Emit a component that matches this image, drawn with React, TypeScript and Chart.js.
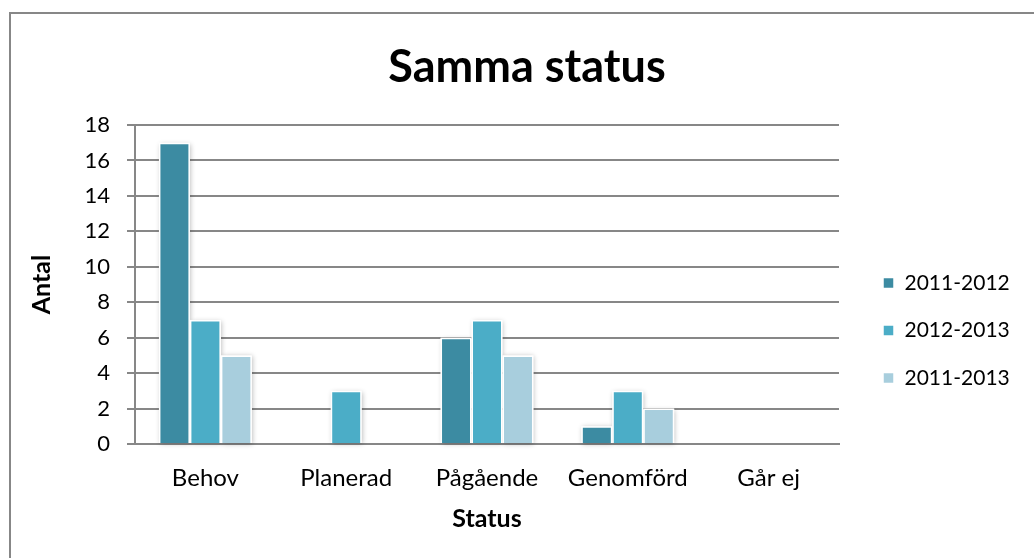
import React, { useEffect, useRef } from "react";
import { Chart, registerables } from "chart.js";

Chart.register(...registerables);

const FONT = 'Lato, "Open Sans", sans-serif';

const chartTitle = "Samma status";
const xAxisTitle = "Status";
const yAxisTitle = "Antal";
const categories = ["Behov", "Planerad", "Pågående", "Genomförd", "Går ej"];
const seriesLabels = ["2011-2012", "2012-2013", "2011-2013"];
const values20112012 = [17, 0, 6, 1, 0];
const values20122013 = [7, 3, 7, 3, 0];
const values20112013 = [5, 0, 5, 2, 0];
const seriesColors = ["#3C8BA2", "#4BADC7", "#A8CEDD"];
const yMin = 0;
const yMax = 18;
const yStep = 2;

const barShadow = {
  id: "barShadow",
  beforeDatasetsDraw(chart: any) {
    const ctx = chart.ctx;
    ctx.save();
    ctx.shadowColor = "rgba(0,0,0,0.28)";
    ctx.shadowBlur = 5;
    ctx.shadowOffsetX = 1;
    ctx.shadowOffsetY = 1;
    ctx.fillStyle = "#ffffff";
    chart.data.datasets.forEach((_d: any, i: number) => {
      const meta = chart.getDatasetMeta(i);
      meta.data.forEach((el: any) => {
        const h = el.base - el.y;
        if (h > 0.5) {
          ctx.fillRect(el.x - el.width / 2, el.y, el.width, h);
        }
      });
    });
    ctx.restore();
  },
};

export default function App() {
  const ref = useRef<HTMLCanvasElement | null>(null);

  useEffect(() => {
    if (!ref.current) return;
    const valueSets = [values20112012, values20122013, values20112013];
    const chart = new Chart(ref.current, {
      type: "bar",
      data: {
        labels: categories,
        datasets: seriesLabels.map((label, i) => ({
          label,
          data: valueSets[i],
          backgroundColor: seriesColors[i],
          borderColor: "#ffffff",
          borderWidth: 1.5,
          borderSkipped: "bottom",
          categoryPercentage: 0.66,
          barPercentage: 1.0,
        })),
      },
      options: {
        responsive: false,
        animation: false,
        layout: { padding: { left: 40, right: 20, top: 0, bottom: 0 } },
        plugins: {
          title: {
            display: true,
            text: chartTitle,
            color: "#000000",
            font: { family: FONT, size: 45, weight: "bold" },
            padding: { top: 40, bottom: 31 },
          },
          legend: {
            position: "right",
            align: "start",
            maxWidth: 157.5,
            title: {
              display: true,
              text: " ",
              font: { family: FONT, size: 10 },
              padding: { top: 234, bottom: 0 },
            },
            labels: {
              boxWidth: 11,
              boxHeight: 11,
              padding: 26.5,
              color: "#000000",
              font: { family: FONT, size: 21 },
            },
          },
          tooltip: { enabled: false },
        },
        scales: {
          x: {
            grid: { display: false, drawTicks: false },
            border: { display: true, color: "#878787", width: 2 },
            ticks: { padding: 19.6, color: "#000000", font: { family: FONT, size: 24 } },
            title: {
              display: true,
              text: xAxisTitle,
              color: "#000000",
              font: { family: FONT, size: 25, weight: "bold" },
              padding: { top: 0, bottom: 24 },
            },
            afterFit: (s: any) => {
              s.height = 114;
            },
          },
          y: {
            min: yMin,
            max: yMax,
            ticks: { stepSize: yStep, padding: 17, color: "#000000", font: { family: FONT, size: 22 } },
            grid: { color: "#878787", lineWidth: 2, tickLength: 8, drawTicks: true },
            border: { display: true, color: "#878787", width: 2 },
            title: {
              display: true,
              text: yAxisTitle,
              color: "#000000",
              font: { family: FONT, size: 25, weight: "bold" },
              padding: { top: -13, bottom: 0 },
            },
            afterFit: (s: any) => {
              s.width = 95;
            },
          },
          yR: {
            position: "right",
            display: true,
            grid: { display: false, drawTicks: false },
            border: { display: false },
            ticks: { display: false },
            afterFit: (s: any) => {
              s.width = 17.5;
            },
          },
        },
      } as any,
      plugins: [barShadow],
    });
    return () => chart.destroy();
  }, []);

  return (
    <div style={{ position: "absolute", left: 0, top: 0, width: 1034, height: 558, overflow: "hidden", background: "#ffffff" }}>
      <div
        style={{
          position: "absolute",
          left: 9,
          top: 12,
          width: 1200,
          height: 700,
          borderLeft: "2px solid #878787",
          borderTop: "2px solid #878787",
        }}
      />
      <canvas ref={ref} width={1034} height={558} style={{ position: "absolute", left: 0, top: 0, display: "block" }} />
    </div>
  );
}
